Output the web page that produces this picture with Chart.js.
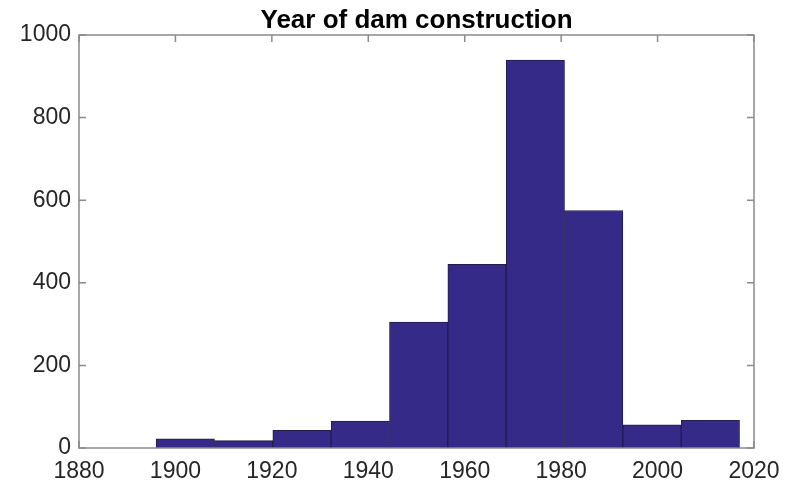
<!DOCTYPE html>
<html>
<head>
<meta charset="utf-8">
<script src="https://cdn.jsdelivr.net/npm/chart.js@4"></script>
<style>
  html, body { margin: 0; padding: 0; background: #fff; }
  #wrap { width: 798px; height: 484px; }
</style>
</head>
<body>
<div id="wrap"><canvas id="chart"></canvas></div>
<script>
// histogram bin edges (years) and counts
const binEdges = [1896, 1908.1, 1920.2, 1932.3, 1944.4, 1956.5, 1968.6, 1980.7, 1992.8, 2004.9, 2017];
const counts = [22, 18, 43, 65, 305, 445, 939, 575, 56, 67];
const xTicks = [1880, 1900, 1920, 1940, 1960, 1980, 2000, 2020];
const yTicks = [0, 200, 400, 600, 800, 1000];
const titleText = 'Year of dam construction';

const points = counts.map((c, i) => ({ x: (binEdges[i] + binEdges[i + 1]) / 2, y: c }));

// MATLAB-style box: inward ticks under the bars, frame and title on top
const boxPlugin = {
  id: 'box',
  beforeDatasetsDraw(chart) {
    const ctx = chart.ctx;
    const a = chart.chartArea;
    const xs = chart.scales.x, ys = chart.scales.y;
    ctx.save();
    ctx.strokeStyle = '#8a8a8a';
    ctx.lineWidth = 1.5;
    ctx.beginPath();
    xTicks.forEach(t => {
      const px = xs.getPixelForValue(t);
      ctx.moveTo(px, a.bottom); ctx.lineTo(px, a.bottom - 7);
      ctx.moveTo(px, a.top); ctx.lineTo(px, a.top + 7);
    });
    yTicks.forEach(t => {
      const py = ys.getPixelForValue(t);
      ctx.moveTo(a.left, py); ctx.lineTo(a.left + 7, py);
      ctx.moveTo(a.right, py); ctx.lineTo(a.right - 7, py);
    });
    ctx.stroke();
    ctx.restore();
  },
  afterDraw(chart) {
    const ctx = chart.ctx;
    const a = chart.chartArea;
    ctx.save();
    ctx.strokeStyle = '#8a8a8a';
    ctx.lineWidth = 1.5;
    ctx.strokeRect(a.left, a.top, a.right - a.left, a.bottom - a.top);

    ctx.fillStyle = '#000';
    ctx.font = 'bold 26px "Liberation Sans", Arial, sans-serif';
    ctx.textAlign = 'center';
    ctx.textBaseline = 'alphabetic';
    ctx.fillText(titleText, (a.left + a.right) / 2, 28);
    ctx.restore();
  }
};

const tickFont = { family: '"Liberation Sans", Arial, sans-serif', size: 23 };

new Chart(document.getElementById('chart'), {
  type: 'bar',
  data: {
    datasets: [{
      data: points,
      backgroundColor: 'rgb(53, 42, 135)',
      borderColor: '#231c4e',
      borderWidth: 1,
      barPercentage: 1,
      categoryPercentage: 1
    }]
  },
  options: {
    responsive: true,
    maintainAspectRatio: false,
    animation: false,
    layout: { padding: { left: 0, right: 44, top: 35, bottom: 0 } },
    plugins: {
      legend: { display: false },
      tooltip: { enabled: false },
      title: { display: false }
    },
    scales: {
      x: {
        type: 'linear',
        min: 1880,
        max: 2020,
        offset: false,
        grid: { display: false },
        border: { display: false },
        ticks: { stepSize: 20, color: '#262626', font: tickFont, padding: 2, maxRotation: 0,
                 callback: v => String(v) },
        afterFit: s => { s.height = 36; }
      },
      y: {
        min: 0,
        max: 1000,
        grid: { display: false },
        border: { display: false },
        ticks: { stepSize: 200, color: '#262626', font: tickFont, padding: 0,
                 callback: v => String(v) },
        afterFit: s => { s.width = 79; }
      }
    }
  },
  plugins: [boxPlugin]
});
</script>
</body>
</html>
